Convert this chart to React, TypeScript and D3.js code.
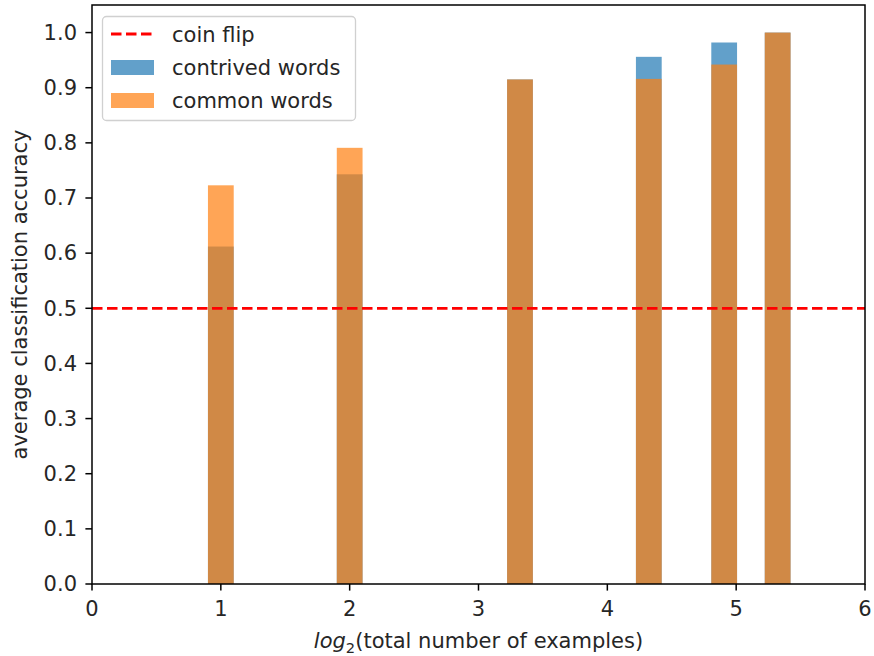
import React from "react";
import * as d3 from "d3";

const exampleCounts = [2, 4, 10, 20, 30, 40];
const contrivedAcc = [0.612, 0.743, 0.915, 0.956, 0.982, 1.0];
const commonAcc = [0.723, 0.791, 0.915, 0.916, 0.942, 1.0];
const xTicks = [0, 1, 2, 3, 4, 5, 6];
const yTicks = [0, 0.1, 0.2, 0.3, 0.4, 0.5, 0.6, 0.7, 0.8, 0.9, 1.0];
const coinFlip = 0.5;
const barWidth = 0.2;

const W = 874;
const H = 656;
const M = { left: 92, right: 865, top: 5, bottom: 584 };
const FONT = "DejaVu Sans, sans-serif";
const FS = 21;

export default function App() {
  const x = d3.scaleLinear().domain([0, 6]).range([M.left, M.right]);
  const y = d3.scaleLinear().domain([0, 1.05]).range([M.bottom, M.top]);
  const fmt = d3.format(".1f");
  const blue = "#1f77b4";
  const orange = "#ff7f0e";
  const bars = (vals: number[], color: string) =>
    vals.map((v, i) => {
      const c = Math.log2(exampleCounts[i]);
      const x0 = x(c - barWidth / 2);
      const x1 = x(c + barWidth / 2);
      return (
        <rect
          key={color + i}
          x={x0}
          y={y(v)}
          width={x1 - x0}
          height={y(0) - y(v)}
          fill={color}
          fillOpacity={0.7}
        />
      );
    });
  return (
    <svg
      width={W}
      height={H}
      style={{ position: "absolute", left: 0, top: 0, background: "#fff" }}
      fontFamily={FONT}
    >
      <rect x={0} y={0} width={W} height={H} fill="#fff" />
      {bars(contrivedAcc, blue)}
      {bars(commonAcc, orange)}
      <line
        x1={M.left}
        x2={M.right}
        y1={y(coinFlip)}
        y2={y(coinFlip)}
        stroke="red"
        strokeWidth={2.8}
        strokeDasharray="10.5,4.5"
      />
      <rect
        x={M.left}
        y={M.top}
        width={M.right - M.left}
        height={M.bottom - M.top}
        fill="none"
        stroke="#000"
        strokeWidth={1.5}
      />
      {xTicks.map((t) => (
        <g key={"x" + t}>
          <line x1={x(t)} x2={x(t)} y1={M.bottom} y2={M.bottom + 6.6} stroke="#000" strokeWidth={1.5} />
          <text x={x(t)} y={M.bottom + 32} textAnchor="middle" fontSize={FS} fill="#262626">
            {t}
          </text>
        </g>
      ))}
      {yTicks.map((t) => (
        <g key={"y" + t}>
          <line x1={M.left - 6.6} x2={M.left} y1={y(t)} y2={y(t)} stroke="#000" strokeWidth={1.5} />
          <text x={M.left - 15} y={y(t)} dy="0.35em" textAnchor="end" fontSize={FS} fill="#262626">
            {fmt(t)}
          </text>
        </g>
      ))}
      <text x={(M.left + M.right) / 2} y={648} textAnchor="middle" fontSize={FS} fill="#262626">
        <tspan fontStyle="italic">log</tspan>
        <tspan fontSize={FS * 0.7} dy={5}>2</tspan>
        <tspan dy={-5}>(total number of examples)</tspan>
      </text>
      <text
        transform={`translate(27,${(M.top + M.bottom) / 2}) rotate(-90)`}
        textAnchor="middle"
        fontSize={FS}
        fill="#262626"
      >
        average classification accuracy
      </text>
      <g>
        <rect x={102.5} y={16.5} width={253} height={104} rx={4} fill="#fff" fillOpacity={0.8} stroke="#d0d0d0" strokeWidth={1.3} />
        <line x1={111} x2={154} y1={34} y2={34} stroke="red" strokeWidth={2.8} strokeDasharray="10.5,4.5" />
        <rect x={111} y={60} width={43} height={15} fill={blue} fillOpacity={0.7} />
        <rect x={111} y={93} width={43} height={15} fill={orange} fillOpacity={0.7} />
        <text x={172} y={35} dy="0.35em" fontSize={FS} fill="#262626">coin flip</text>
        <text x={172} y={68} dy="0.35em" fontSize={FS} fill="#262626">contrived words</text>
        <text x={172} y={101} dy="0.35em" fontSize={FS} fill="#262626">common words</text>
      </g>
    </svg>
  );
}
